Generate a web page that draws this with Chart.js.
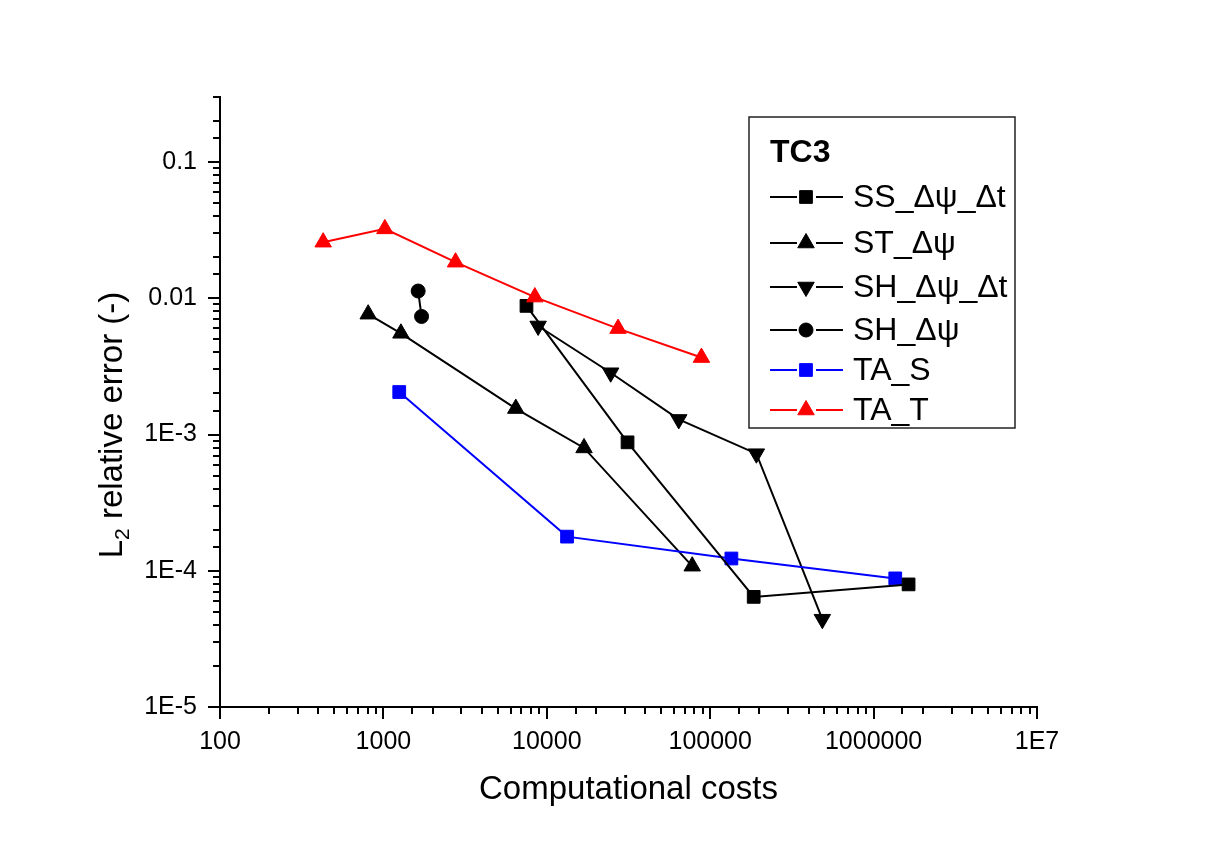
<!DOCTYPE html>
<html>
<head>
<meta charset="utf-8">
<title>TC3 – error vs computational costs</title>
<script src="https://cdn.jsdelivr.net/npm/chart.js@4/dist/chart.umd.min.js"></script>
<style>
  body { margin: 0; background: #fff; }
  #chart { display: block; }
</style>
</head>
<body>
<canvas id="chart" width="1210" height="846"></canvas>
<script>
// values (x = computational costs, y = L2 relative error)
const ssCost  = [7510, 31200, 184600, 1637000];
const ssErr   = [0.00879, 0.000876, 0.0000643, 0.0000794];
const stCost  = [807, 1280, 6460, 16900, 77600];
const stErr   = [0.00764, 0.00553, 0.00155, 0.000797, 0.000108];
const shdCost = [8850, 24600, 64200, 191700, 485600];
const shdErr  = [0.00626, 0.00284, 0.00129, 0.000723, 0.0000441];
const shCost  = [1632, 1712];
const shErr   = [0.0113, 0.00735];
const tasCost = [1250, 13300, 134800, 1357000];
const tasErr  = [0.00205, 0.000178, 0.000123, 0.0000879];
const tatCost = [428, 1021, 2764, 8450, 27300, 88400];
const tatErr  = [0.0258, 0.0323, 0.0184, 0.0102, 0.00599, 0.00367];

const seriesNames = ['SS_\u0394\u03C8_\u0394t', 'ST_\u0394\u03C8', 'SH_\u0394\u03C8_\u0394t', 'SH_\u0394\u03C8', 'TA_S', 'TA_T'];
const xTickLabels = {100: '100', 1000: '1000', 10000: '10000', 100000: '100000', 1000000: '1000000', 10000000: '1E7'};
const yTickLabels = {'-5': '1E-5', '-4': '1E-4', '-3': '1E-3', '-2': '0.01', '-1': '0.1'};

const FONT = "'Liberation Sans', Arial, Helvetica, sans-serif";

const pts = (xs, ys) => xs.map((x, i) => ({x: x, y: ys[i]}));

function series(label, data, color, style, radius, rotation, order) {
  return {
    label: label,
    data: data,
    borderColor: color,
    backgroundColor: color,
    borderWidth: 2,
    tension: 0,
    pointStyle: style,
    pointRadius: radius,
    pointHoverRadius: radius,
    pointRotation: rotation,
    pointBorderWidth: 1,
    pointBackgroundColor: color,
    pointBorderColor: color,
    order: order
  };
}

const datasets = [
  series(seriesNames[0], pts(ssCost, ssErr), '#000', 'rect', 9, 0, 1),
  series(seriesNames[1], pts(stCost, stErr), '#000', 'triangle', 9.5, 0, 3),
  series(seriesNames[2], pts(shdCost, shdErr), '#000', 'triangle', 9.5, 180, 3),
  series(seriesNames[3], pts(shCost, shErr), '#000', 'circle', 7, 0, 3),
  series(seriesNames[4], pts(tasCost, tasErr), '#0000ff', 'rect', 9, 0, 2),
  series(seriesNames[5], pts(tatCost, tatErr), '#ff0000', 'triangle', 9.5, 0, 0)
];

const isDecade = v => Math.abs(Math.log10(v) - Math.round(Math.log10(v))) < 1e-9;

// white page
const background = {
  id: 'background',
  beforeDraw(chart) {
    const ctx = chart.ctx;
    ctx.save();
    ctx.fillStyle = '#fff';
    ctx.fillRect(0, 0, chart.width, chart.height);
    ctx.restore();
  }
};

// outward tick marks, long at decades, short in between
const tickMarks = {
  id: 'tickMarks',
  afterDraw(chart) {
    const ctx = chart.ctx;
    const xs = chart.scales.x, ys = chart.scales.y;
    ctx.save();
    ctx.strokeStyle = '#000';
    ctx.lineWidth = 2;
    ctx.beginPath();
    xs.ticks.forEach(t => {
      const px = Math.round(xs.getPixelForValue(t.value));
      const len = isDecade(t.value) ? 12 : 7;
      ctx.moveTo(px, xs.top);
      ctx.lineTo(px, xs.top + len);
    });
    ys.ticks.forEach(t => {
      const py = Math.round(ys.getPixelForValue(t.value));
      const len = isDecade(t.value) ? 12 : 7;
      ctx.moveTo(ys.right, py);
      ctx.lineTo(ys.right - len, py);
    });
    ctx.stroke();
    ctx.restore();
  }
};

// y title with subscript
const yTitle = {
  id: 'yTitle',
  afterDraw(chart) {
    const ctx = chart.ctx;
    const big = '33px ' + FONT, small = '21px ' + FONT;
    const rest = ' relative error (-)';
    ctx.save();
    ctx.font = big;
    const wL = ctx.measureText('L').width, wR = ctx.measureText(rest).width;
    ctx.font = small;
    const w2 = ctx.measureText('2').width;
    const total = wL + w2 + wR;
    ctx.translate(122, 425);
    ctx.rotate(-Math.PI / 2);
    ctx.fillStyle = '#000';
    ctx.textBaseline = 'alphabetic';
    ctx.textAlign = 'left';
    let x = -total / 2;
    ctx.font = big;
    ctx.fillText('L', x, 0);
    x += wL;
    ctx.font = small;
    ctx.fillText('2', x, 7);
    x += w2;
    ctx.font = big;
    ctx.fillText(rest, x, 0);
    ctx.restore();
  }
};

// boxed legend inside the plot
const boxLegend = {
  id: 'boxLegend',
  afterDraw(chart) {
    const ctx = chart.ctx;
    const rows = [197, 243, 287, 330, 370, 410];
    ctx.save();
    ctx.fillStyle = '#fff';
    ctx.fillRect(749, 117, 266, 311);
    ctx.strokeStyle = '#222';
    ctx.lineWidth = 1.5;
    ctx.strokeRect(749, 117, 266, 311);
    ctx.fillStyle = '#000';
    ctx.textBaseline = 'middle';
    ctx.textAlign = 'left';
    ctx.font = 'bold 32px ' + FONT;
    ctx.fillText('TC3', 770, 153);
    ctx.font = '32px ' + FONT;
    chart.data.datasets.forEach((ds, i) => {
      const y = rows[i];
      ctx.strokeStyle = ds.borderColor;
      ctx.lineWidth = 2;
      ctx.beginPath();
      ctx.moveTo(770, y);
      ctx.lineTo(797, y);
      ctx.moveTo(816, y);
      ctx.lineTo(843, y);
      ctx.stroke();
      ctx.fillStyle = ds.pointBackgroundColor;
      ctx.strokeStyle = ds.pointBorderColor;
      ctx.lineWidth = 1;
      Chart.helpers.drawPoint(ctx, {
        pointStyle: ds.pointStyle,
        radius: ds.pointRadius,
        rotation: ds.pointRotation,
        borderWidth: 1
      }, 806, y);
      ctx.fillStyle = '#000';
      ctx.fillText(ds.label, 853, y + 1);
    });
    ctx.restore();
  }
};

new Chart(document.getElementById('chart'), {
  type: 'line',
  data: { datasets: datasets },
  options: {
    responsive: false,
    animation: false,
    layout: { padding: { left: 0, right: 173, top: 97, bottom: 0 } },
    plugins: { legend: { display: false }, tooltip: { enabled: false } },
    scales: {
      x: {
        type: 'logarithmic',
        min: 100,
        max: 10000000,
        afterFit: s => { s.height = 139; },
        grid: { display: true, drawOnChartArea: false, drawTicks: false },
        border: { display: true, color: '#000', width: 2 },
        ticks: {
          autoSkip: false,
          maxRotation: 0,
          padding: 20,
          color: '#000',
          font: { family: FONT, size: 25 },
          callback: v => xTickLabels[v] || ''
        },
        title: {
          display: true,
          text: 'Computational costs',
          color: '#000',
          font: { family: FONT, size: 33 },
          padding: { top: 0, bottom: 36 }
        }
      },
      y: {
        type: 'logarithmic',
        min: 0.00001,
        max: 0.3,
        afterFit: s => { s.width = 220; },
        grid: { display: true, drawOnChartArea: false, drawTicks: false },
        border: { display: true, color: '#000', width: 2 },
        ticks: {
          autoSkip: false,
          padding: 23,
          color: '#000',
          font: { family: FONT, size: 25 },
          callback: v => isDecade(v) ? (yTickLabels[Math.round(Math.log10(v))] || '') : ''
        }
      }
    }
  },
  plugins: [background, tickMarks, yTitle, boxLegend]
});
</script>
</body>
</html>
